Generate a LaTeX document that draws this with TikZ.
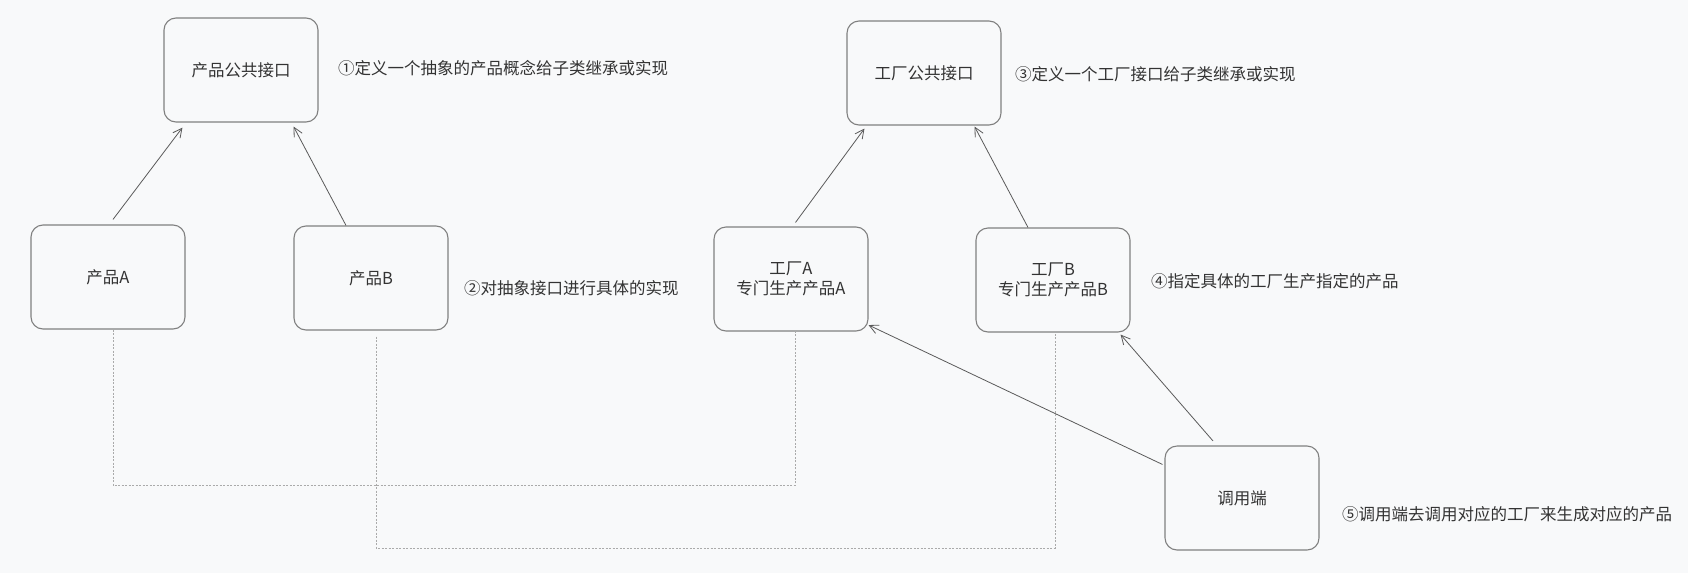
\documentclass[tikz,border=0pt]{standalone}
\usepackage{fontspec}
\newfontfamily\cjk{Noto Sans CJK SC}
\usetikzlibrary{arrows.meta,positioning,calc}
\definecolor{bgcol}{RGB}{248,249,250}
\definecolor{boxcol}{RGB}{128,128,128}
\definecolor{txtcol}{RGB}{51,51,51}
\definecolor{arrcol}{RGB}{90,90,90}
\definecolor{dotcol}{RGB}{170,170,170}
\tikzset{
  boxnd/.style={draw=boxcol, line width=1.1pt, rounded corners=12pt, minimum width=154pt, minimum height=104pt, align=center, text=txtcol},
  linkln/.style={-{Straight Barb[length=9pt,width=9pt]}, line width=0.8pt, arrcol},
  dotln/.style={dash pattern=on 2pt off 1.5pt, line width=0.9pt, dotcol},
  notetxt/.style={anchor=west, text=txtcol, inner sep=0pt},
}

\begin{document}
\begin{tikzpicture}[x=1pt, y=-1pt, font=\cjk\fontsize{16.5}{20.5}\selectfont]
    \fill[bgcol] (0,0) rectangle (1688,573);
    \useasboundingbox (0,0) rectangle (1688,573);
    % product side
    \node[boxnd] (PI) at (241,70) {产品公共接口};
    \node[boxnd] (PA) at (108,277) {产品A};
    \node[boxnd] (PB) at (371,278) {产品B};
    % factory side
    \node[boxnd] (FI) at (924,73) {工厂公共接口};
    \node[boxnd] (FA) at (791,279) {工厂A\\专门生产产品A};
    \node[boxnd] (FB) at (1053,280) {工厂B\\专门生产产品B};
    % caller
    \node[boxnd] (CL) at (1242,498) {调用端};
    % notes
    \node[notetxt] (n1) at (338,68) {①定义一个抽象的产品概念给子类继承或实现};
    \node[notetxt] (n2) at (464,288.5) {②对抽象接口进行具体的实现};
    \node[notetxt] (n3) at (1015,74) {③定义一个工厂接口给子类继承或实现};
    \node[notetxt] (n4) at (1151,281) {④指定具体的工厂生产指定的产品};
    \node[notetxt] (n5) at (1342,514.5) {⑤调用端去调用对应的工厂来生成对应的产品};
    % inheritance arrows
    \draw[linkln] ([xshift=5pt,yshift=5pt]PA.north) -- ([xshift=19pt,yshift=-5pt]PI.south west);
    \draw[linkln] ([xshift=-25pt]PB.north) -- ([xshift=-25pt,yshift=-4pt]PI.south east);
    \draw[linkln] ([xshift=4.5pt,yshift=4pt]FA.north) -- ([xshift=18pt,yshift=-3pt]FI.south west);
    \draw[linkln] ([xshift=-25pt]FB.north) -- ([xshift=-27pt,yshift=-1pt]FI.south east);
    % caller arrows
    \draw[linkln] ([xshift=-29pt,yshift=4.5pt]CL.north) -- ([xshift=-10pt,yshift=-2pt]FB.south east);
    \draw[linkln] ([xshift=-2pt,yshift=-19pt]CL.north west) -- ([yshift=6.5pt]FA.south east);
    % dotted links product -> factory
    \coordinate (busA) at (0,485.5);
    \coordinate (busB) at (0,548);
    \coordinate (pa0) at ([xshift=5pt]PA.south);
    \coordinate (pb0) at ([xshift=5pt,yshift=-6pt]PB.south);
    \draw[dotln] (pa0) -- (pa0 |- busA) -| ([xshift=4pt]FA.south);
    \draw[dotln] (pb0) -- (pb0 |- busB) -| ([xshift=2pt]FB.south);
\end{tikzpicture}
\end{document}
